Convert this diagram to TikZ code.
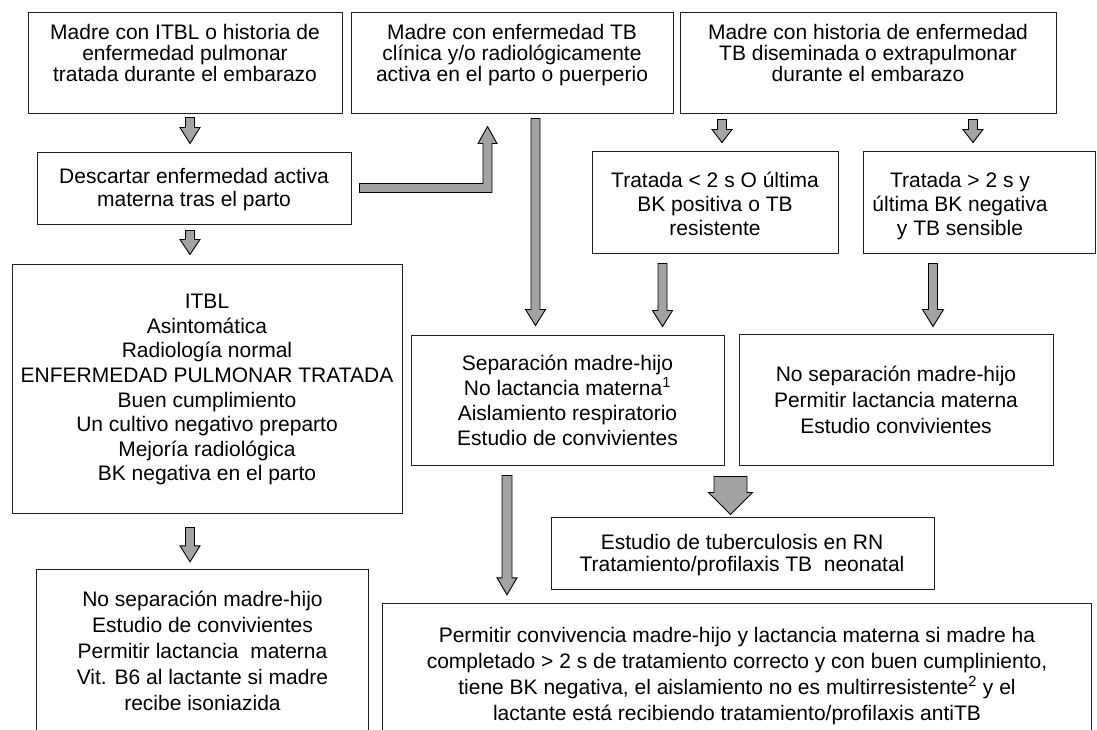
\documentclass[tikz,border=0pt]{standalone}
\usepackage{fontspec}
\setmainfont{Liberation Sans}
\usetikzlibrary{calc,fit}
\definecolor{afill}{gray}{0.64}
\definecolor{lcol}{gray}{0.12}
\tikzset{
  boxline/.style={draw=lcol, line width=1pt},
  box/.style={boxline, inner sep=0pt, fit={#1}},
  obox/.style={inner sep=0pt, fit={#1}},
  txt/.style={align=center, inner sep=0pt, anchor=north, font=\fontsize{21}{#1}\selectfont},
  arr/.style={draw=black, line width=0.9pt, fill=afill, line join=miter},
}
\newcommand\blkdown[5]{%
  \draw[arr] let \p1=#1, \p2=#2 in
    (\x1-#3pt,\y1) -- (\x1+#3pt,\y1) -- (\x1+#3pt,\y2+#5pt) -- (\x1+#4pt,\y2+#5pt)
    -- (\x1,\y2) -- (\x1-#4pt,\y2+#5pt) -- (\x1-#3pt,\y2+#5pt) -- cycle;}
\begin{document}
\begin{tikzpicture}[x=1pt,y=-1pt]
\useasboundingbox (0,0) rectangle (1097,729);
\clip (0,0) rectangle (1097,729);
\fill[white] (0,0) rectangle (1097,729);
% boxes
\node[box={(28,12) (342,113)}] (b1) {};
\node[box={(351,12) (673,113)}] (b2) {};
\node[box={(680,12) (1056,113)}] (b3) {};
\node[box={(37,152) (351,224)}] (bd) {};
\node[box={(592,151) (838,253)}] (bt1) {};
\node[box={(863,151) (1095,253)}] (bt2) {};
\node[box={(12,264) (402,513)}] (bi) {};
\node[box={(411,335) (724,465)}] (bs) {};
\node[box={(739,334) (1053,465)}] (bn) {};
\node[box={(551,517) (934,589)}] (be) {};
\node[obox={(37,570) (368,745)}] (bl) {};
\node[obox={(383,604) (1091,745)}] (bb) {};
\draw[boxline] (bl.south west) -- (bl.north west) -- (bl.north east) -- (bl.south east);
\draw[boxline] (bb.south west) -- (bb.north west) -- (bb.north east) -- (bb.south east);
% texts
\node[txt=21] (t1) at (185,24) {Madre con ITBL o historia de\\enfermedad pulmonar\\tratada durante el embarazo};
\node[txt=21] (t2) at (512,24) {Madre con enfermedad TB\\clínica y/o radiológicamente\\activa en el parto o puerperio};
\node[txt=21] (t3) at (868,24) {Madre con historia de enfermedad\\TB diseminada o extrapulmonar\\durante el embarazo};
\node[txt=23] (td) at (194,168) {Descartar enfermedad activa\\materna tras el parto};
\node[txt=24] (tt1) at (715,172) {Tratada < 2 s O última\\BK positiva o TB\\resistente};
\node[txt=24] (tt2) at (960,172) {Tratada > 2 s y\\última BK negativa\\y TB sensible};
\node[txt=24.6] (ti) at (207,294) {ITBL\\Asintomática\\Radiología normal\\ENFERMEDAD PULMONAR TRATADA\\Buen cumplimiento\\Un cultivo negativo preparto\\Mejoría radiológica\\BK negativa en el parto};
\node[txt=25] (ts) at (567.5,354.5) {Separación madre-hijo\\No lactancia materna\textsuperscript{1}\\Aislamiento respiratorio\\Estudio de convivientes};
\node[txt=26] (tn) at (896,365.5) {No separación madre-hijo\\Permitir lactancia materna\\Estudio convivientes};
\node[txt=22] (te) at (742,534) {Estudio de tuberculosis en RN\\Tratamiento/profilaxis TB~ neonatal};
\node[txt=26] (tl) at (202.5,591) {No separación madre-hijo\\Estudio de convivientes\\Permitir lactancia~ materna\\Vit. B6 al lactante si madre\\recibe isoniazida};
\node[txt=26] (tb) at (737,627) {Permitir convivencia madre-hijo y lactancia materna si madre ha\\completado > 2 s de tratamiento correcto y con buen cumpliniento,\\tiene BK negativa, el aislamiento no es multirresistente\textsuperscript{2} y el\\lactante está recibiendo tratamiento/profilaxis antiTB};
% x positions of arrows
\coordinate (x190) at (190,0);
\coordinate (x487) at (487.5,0);
\coordinate (x535) at (535.5,0);
\coordinate (x722) at (722,0);
\coordinate (x973) at (973,0);
\coordinate (x662) at (662.5,0);
\coordinate (x933) at (933,0);
\coordinate (x730) at (730.5,0);
\coordinate (x507) at (507,0);
% arrows
\blkdown{($(b1.south -| x190)+(0,4)$)}{($(bd.north -| x190)+(0,-8)$)}{4.5}{10}{16}
\blkdown{($(bd.south -| x190)+(0,6)$)}{($(bi.north -| x190)+(0,-9)$)}{4.5}{10}{15}
\blkdown{($(bi.south -| x190)+(0,14)$)}{($(bl.north -| x190)+(0,-8)$)}{4.5}{10}{16}
\blkdown{($(b2.south -| x535)+(0,5)$)}{($(bs.north -| x535)+(0,-9)$)}{4.5}{10}{16}
\blkdown{($(b3.south -| x722)+(0,6)$)}{($(bt1.north -| x722)+(0,-8)$)}{4.5}{10}{13}
\blkdown{($(b3.south -| x973)+(0,6)$)}{($(bt2.north -| x973)+(0,-8)$)}{4.5}{10}{13}
\blkdown{($(bt1.south -| x662)+(0,10)$)}{($(bs.north -| x662)+(0,-8)$)}{4.5}{10}{16}
\blkdown{($(bt2.south -| x933)+(0,10)$)}{($(bn.north -| x933)+(0,-7)$)}{4.5}{10.5}{17}
\blkdown{($(bs.south -| x730)+(0,11)$)}{($(be.north -| x730)+(0,-2)$)}{16.5}{22}{22}
\blkdown{($(bs.south -| x507)+(0,10)$)}{($(bb.north -| x507)+(0,-9)$)}{5}{10}{17}
% L-shaped arrow from bd to b2
\draw[arr] let \p1=(bd.east), \p2=($(b2.south -| x487)+(0,13)$) in
  (\x1+8pt,\y1+4.5pt) -- (\x2-4.5pt,\y1+4.5pt) -- (\x2-4.5pt,\y2-17pt) -- (\x2-9.5pt,\y2-17pt)
  -- (\x2,\y2) -- (\x2+9.5pt,\y2-17pt) -- (\x2+4.5pt,\y2-17pt) -- (\x2+4.5pt,\y1-4.5pt)
  -- (\x1+8pt,\y1-4.5pt) -- cycle;
\end{tikzpicture}
\end{document}
